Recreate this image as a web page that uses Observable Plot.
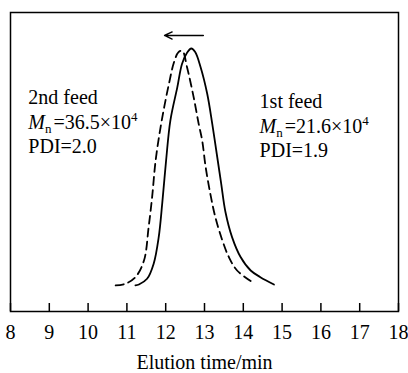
<!DOCTYPE html>
<html>
<head>
<meta charset="utf-8">
<script src="https://cdn.jsdelivr.net/npm/d3@7"></script>
<script src="https://cdn.jsdelivr.net/npm/@observablehq/plot@0.6"></script>
<style>
  html, body { margin: 0; padding: 0; background: #fff; }
  svg text { font-family: "Liberation Serif", "Times New Roman", serif; }
</style>
</head>
<body>
<div id="chart"></div>
<script>
// ---- data ----
const xTicks = [8, 9, 10, 11, 12, 13, 14, 15, 16, 17, 18];

// 1st feed (solid)
const firstTime = [11.22, 11.31, 11.52, 11.69, 11.82, 11.91, 12.01, 12.12, 12.30, 12.42, 12.55, 12.66, 12.76, 12.90, 13.07, 13.20, 13.33, 13.43, 13.54, 13.71, 13.93, 14.19, 14.44, 14.79];
const firstSignal = [0, 0.004, 0.028, 0.092, 0.204, 0.345, 0.527, 0.696, 0.837, 0.935, 0.982, 1.0, 0.985, 0.921, 0.809, 0.682, 0.540, 0.430, 0.310, 0.204, 0.120, 0.063, 0.035, 0.004];

// 2nd feed (dashed)
const secondTime = [10.71, 10.96, 11.22, 11.44, 11.56, 11.65, 11.74, 11.86, 11.97, 12.08, 12.21, 12.33, 12.43, 12.55, 12.72, 12.85, 12.94, 13.03, 13.15, 13.28, 13.46, 13.63, 13.84, 14.23];
const secondSignal = [0, 0.007, 0.035, 0.105, 0.246, 0.373, 0.527, 0.660, 0.760, 0.848, 0.940, 0.985, 0.990, 0.921, 0.795, 0.682, 0.612, 0.499, 0.387, 0.288, 0.190, 0.119, 0.063, 0.014];

// annotations
const noteNames = ["2nd feed", "1st feed"];
const noteMn = ["36.5", "21.6"];
const noteExp = ["4", "4"];
const notePDI = ["2.0", "1.9"];
const noteTime = [8.46, 14.42];
const noteLevel = [0.764, 0.747];

const arrowFrom = 12.97, arrowTo = 11.97, arrowLevel = 1.055;
const xLabel = "Elution time/min";

// ---- build tables ----
const first = firstTime.map((t, i) => ({t, v: firstSignal[i]}));
const second = secondTime.map((t, i) => ({t, v: secondSignal[i]}));
const noteLines = noteNames.map((n, i) => [
  {x: noteTime[i], y: noteLevel[i], line: 0, text: n},
  {x: noteTime[i], y: noteLevel[i], line: 1, text: `Mn=${noteMn[i]}×10${noteExp[i]}`},
  {x: noteTime[i], y: noteLevel[i], line: 2, text: `PDI=${notePDI[i]}`}
]).flat();

const serif = "Liberation Serif";
const lineStep = 24.5;

const noteMarks = [0, 1, 2].map(j =>
  Plot.text(noteLines.filter(d => d.line === j), {
    x: "x", y: "y", text: "text", textAnchor: "start", lineAnchor: "bottom",
    dy: j * lineStep, fontSize: 20, fontFamily: serif, fill: "#000"
  })
);

const chart = Plot.plot({
  width: 408,
  height: 373,
  marginLeft: 10,
  marginRight: 10,
  marginTop: 12,
  marginBottom: 62,
  style: {fontFamily: serif, fontSize: "20px", background: "#fff", color: "#000"},
  x: {domain: [8, 18]},
  y: {domain: [-0.11, 1.152], axis: null},
  marks: [
    Plot.line(second, {x: "t", y: "v", stroke: "#000", strokeWidth: 1.8, strokeDasharray: "8,5", curve: "catmull-rom"}),
    Plot.line(first, {x: "t", y: "v", stroke: "#000", strokeWidth: 1.8, curve: "catmull-rom"}),
    Plot.arrow([{x1: arrowFrom, x2: arrowTo, y: arrowLevel}], {x1: "x1", x2: "x2", y1: "y", y2: "y", stroke: "#000", strokeWidth: 1.4, headLength: 9, headAngle: 50}),
    ...noteMarks,
    Plot.axisX(xTicks, {tickSize: 8, dy: -8, tickFormat: () => "", label: null, strokeWidth: 1.5, stroke: "#000"}),
    Plot.axisX(xTicks, {tickSize: 0, tickPadding: 13, fontSize: 20, fontFamily: serif, label: null, fill: "#000"}),
    Plot.text([xLabel], {frameAnchor: "bottom", lineAnchor: "bottom", dy: 57, fontSize: 20, fontFamily: serif, fill: "#000"}),
    Plot.frame({stroke: "#000", strokeWidth: 1.5})
  ]
});

// rich formatting for M_n lines (italic M, subscript n, superscript exponent)
d3.select(chart).selectAll("text, tspan").each(function () {
  if (this.childElementCount) return;
  const m = /^Mn=(.*)×10(\d)$/.exec(this.textContent);
  if (!m) return;
  const s = d3.select(this);
  s.text(null);
  s.append("tspan").attr("font-style", "italic").text("M");
  s.append("tspan").attr("font-size", 13).attr("dy", 4).text("n");
  s.append("tspan").attr("dy", -4).attr("dx", 2).text(`=${m[1]}×10`);
  s.append("tspan").attr("font-size", 13).attr("dy", -8).text(m[2]);
});

document.getElementById("chart").appendChild(chart);
</script>
</body>
</html>
